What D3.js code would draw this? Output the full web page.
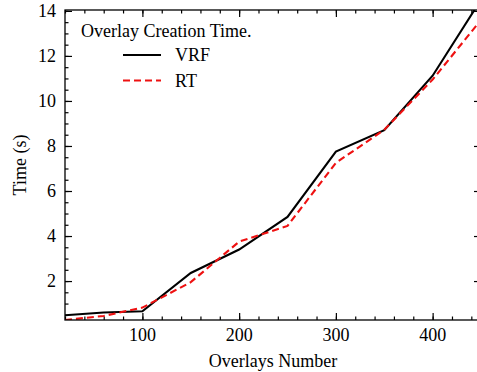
<!DOCTYPE html>
<html>
<head>
<meta charset="utf-8">
<script src="https://cdn.jsdelivr.net/npm/d3@7"></script>
<style>
  body { margin: 0; background: white; }
  svg { display: block; }
  text { font-family: "Liberation Serif", "DejaVu Serif", serif; fill: black; font-size: 18px; }
</style>
</head>
<body>
<svg width="477" height="372"></svg>
<script>
// data
const overlays = [20, 60, 100, 150, 200, 250, 300, 350, 400, 450];
const vrfTime = [0.48, 0.6, 0.66, 2.36, 3.4, 4.85, 7.75, 8.7, 11.12, 14.5];
const rtTime = [0.27, 0.45, 0.82, 1.95, 3.75, 4.45, 7.25, 8.72, 10.95, 13.6];
const xTicks = [100, 200, 300, 400];
const yTicks = [2, 4, 6, 8, 10, 12, 14];

const plotLeft = 65, plotTop = 10, plotRight = 481, plotBottom = 320;

let x = d3.scaleLinear().domain([20, 450]).range([plotLeft, plotRight]);
let y = d3.scaleLinear().domain([0.27, 14.04]).range([plotBottom, plotTop]);

let svg = d3.select("svg");

svg.append("clipPath").attr("id", "plot")
  .append("rect")
  .attr("x", plotLeft).attr("y", plotTop)
  .attr("width", plotRight - plotLeft).attr("height", plotBottom - plotTop);

// inward ticks on all four sides
function tickAxis(axis, tx, ty) {
  const g = svg.append("g").attr("transform", `translate(${tx},${ty})`).call(axis);
  g.select(".domain").remove();
  g.selectAll("line").attr("stroke", "black").attr("stroke-width", 1.2);
  g.selectAll("text").remove();
  return g;
}

const xMinor = d3.range(20, 451, 20);
const yMinor = d3.range(0.5, 14.01, 0.5);

tickAxis(d3.axisBottom(x).tickValues(xMinor).tickSize(-3.5), 0, plotBottom);
tickAxis(d3.axisBottom(x).tickValues(xTicks).tickSize(-7), 0, plotBottom);
tickAxis(d3.axisTop(x).tickValues(xMinor).tickSize(-3.5), 0, plotTop);
tickAxis(d3.axisTop(x).tickValues(xTicks).tickSize(-7), 0, plotTop);
tickAxis(d3.axisLeft(y).tickValues(yMinor).tickSize(-3.5), plotLeft, 0);
tickAxis(d3.axisLeft(y).tickValues(yTicks).tickSize(-7), plotLeft, 0);
tickAxis(d3.axisRight(y).tickValues(yMinor).tickSize(-3.5), plotRight, 0);
tickAxis(d3.axisRight(y).tickValues(yTicks).tickSize(-7), plotRight, 0);

// tick labels
svg.append("g").selectAll("text").data(xTicks).enter().append("text")
  .attr("x", d => x(d)).attr("y", 341)
  .attr("text-anchor", "middle")
  .text(d => d);

svg.append("g").selectAll("text").data(yTicks).enter().append("text")
  .attr("x", 56).attr("y", d => y(d) + 6)
  .attr("text-anchor", "end")
  .text(d => d);

// axis titles
svg.append("text")
  .attr("x", 273).attr("y", 367)
  .attr("text-anchor", "middle")
  .text("Overlays Number");

svg.append("text")
  .attr("transform", "translate(26,165) rotate(-90)")
  .attr("text-anchor", "middle")
  .text("Time (s)");

// lines
let line = d3.line()
  .x((d, i) => x(overlays[i]))
  .y(d => y(d));

let lines = svg.append("g").attr("clip-path", "url(#plot)");

lines.append("path")
  .attr("d", line(vrfTime))
  .attr("fill", "none")
  .attr("stroke", "black")
  .attr("stroke-width", 2.1);

lines.append("path")
  .attr("d", line(rtTime))
  .attr("fill", "none")
  .attr("stroke", "#ee1111")
  .attr("stroke-width", 2.1)
  .attr("stroke-dasharray", "7,4");

// frame
svg.append("rect")
  .attr("x", plotLeft).attr("y", plotTop)
  .attr("width", plotRight - plotLeft).attr("height", plotBottom - plotTop)
  .attr("fill", "none")
  .attr("stroke", "black")
  .attr("stroke-width", 1.3);

// legend
let legend = svg.append("g");
legend.append("text")
  .attr("x", 81).attr("y", 37)
  .text("Overlay Creation Time.");

const legendItems = [
  { name: "VRF", color: "black", dash: null },
  { name: "RT", color: "#ee1111", dash: "7,4" }
];
legendItems.forEach((d, i) => {
  const ly = 55 + i * 25.5;
  legend.append("line")
    .attr("x1", 123).attr("x2", 161)
    .attr("y1", ly).attr("y2", ly)
    .attr("stroke", d.color)
    .attr("stroke-width", 2.1)
    .attr("stroke-dasharray", d.dash);
  legend.append("text")
    .attr("x", 175).attr("y", ly + 6)
    .text(d.name);
});
</script>
</body>
</html>
